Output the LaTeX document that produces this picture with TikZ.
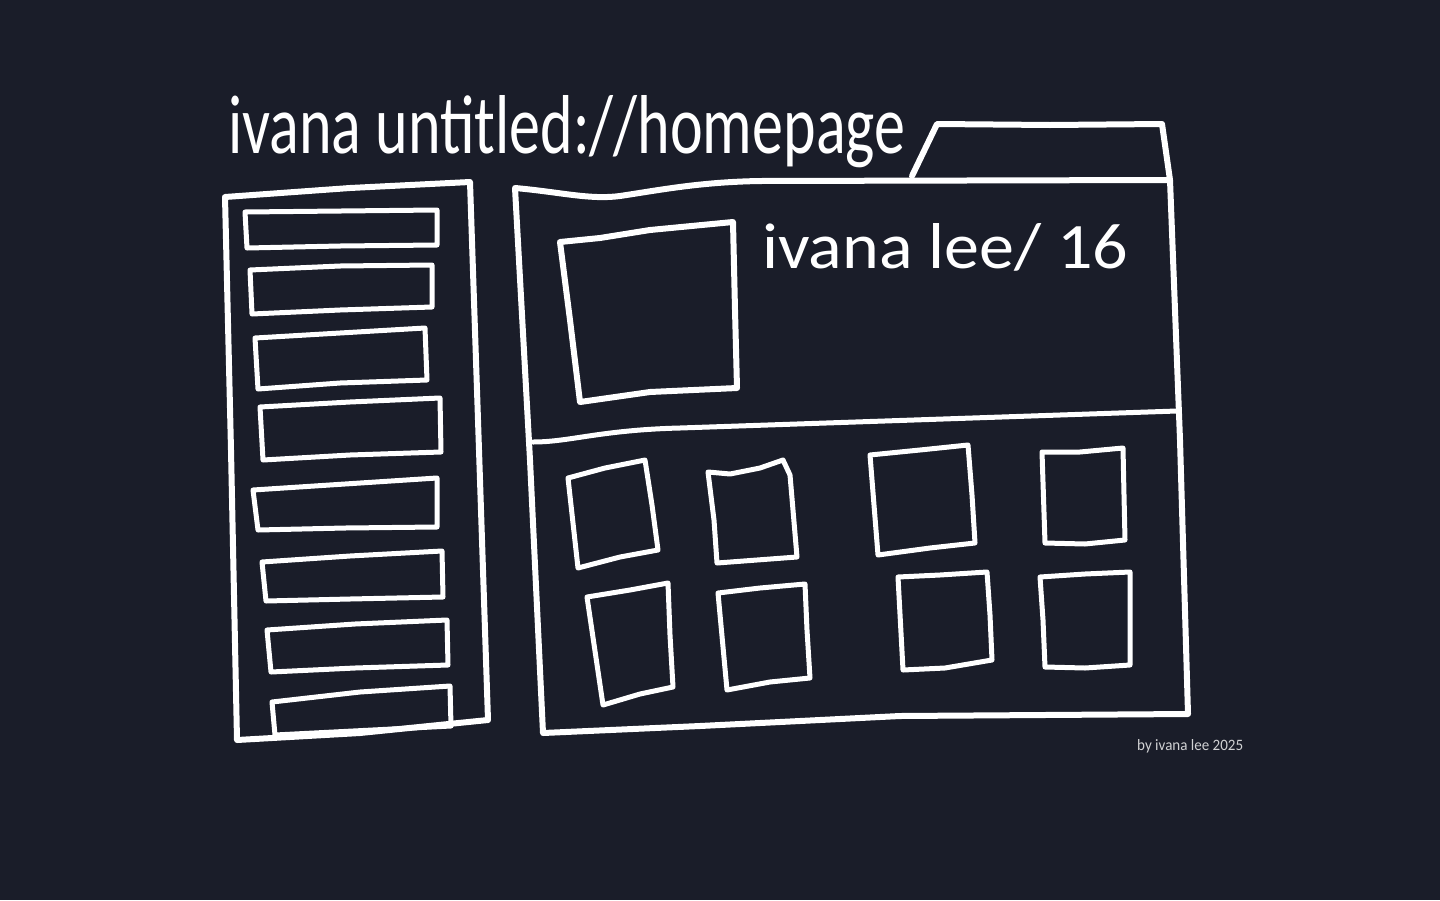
\documentclass[tikz,border=0pt]{standalone}
\usepackage{fontspec}
\setmainfont{Carlito}
\definecolor{bg}{HTML}{1A1D29}
\tikzset{
  sketch/.style={draw=white, line width=6pt, line join=round, line cap=round},
  thinsketch/.style={sketch, line width=5pt},
  hand/.style={text=white, inner sep=0pt, anchor=base west}
}
\begin{document}
\begin{tikzpicture}[x=1pt,y=-1pt]
\useasboundingbox[fill=bg] (0,0) rectangle (1440,900);

% title
\node[hand] (title) at (228,153) {\resizebox{677pt}{58pt}{ivana untitled://homepage}};

% left sidebar
\draw[sketch] (225,197) -- (350,188) -- (470,182) -- (478,420) -- (488,720) -- (360,733) -- (237,740) -- (231,450) -- cycle;
% sidebar items
\draw[thinsketch] (245,212) -- (437,210) -- (437,245) -- (340,246) -- (247,248) -- cycle;
\draw[thinsketch] (250,270) -- (340,266) -- (432,265) -- (432,307) -- (340,310) -- (252,314) -- cycle;
\draw[thinsketch] (255,338) -- (340,333) -- (425,328) -- (427,380) -- (340,383) -- (258,389) -- cycle;
\draw[thinsketch] (260,407) -- (350,402) -- (440,398) -- (441,452) -- (350,455) -- (263,460) -- cycle;
\draw[thinsketch] (253,490) -- (345,484) -- (437,478) -- (437,527) -- (345,528) -- (258,530) -- cycle;
\draw[thinsketch] (262,562) -- (350,556) -- (442,551) -- (443,597) -- (350,599) -- (266,601) -- cycle;
\draw[thinsketch] (267,630) -- (355,624) -- (447,620) -- (448,665) -- (355,668) -- (271,672) -- cycle;
\draw[thinsketch] (272,702) -- (360,692) -- (450,686) -- (451,726) -- (275,735) -- cycle;

% main panel
\draw[sketch] (515,188) .. controls (560,192) and (590,200) .. (620,196)
  .. controls (660,190) and (700,182) .. (760,181) -- (1170,180)
  -- (1180,440) -- (1188,714) -- (900,716) -- (700,726) -- (543,733) -- (530,460) -- cycle;
% tab
\draw[sketch] (912,176) -- (937,124) -- (1050,125) -- (1162,124) -- (1170,180);
% divider
\draw[thinsketch] (533,442) .. controls (570,442) and (600,430) .. (680,428) -- (1177,411);

% profile picture
\draw[sketch] (560,242) -- (600,238) -- (650,230) -- (733,222) -- (735,310) -- (737,388) -- (650,392) -- (580,402) -- (570,320) -- cycle;

% name
\node[hand] (name) at (762,268) {\resizebox{366pt}{45pt}{ivana lee/ 16}};

% grid row 1
\draw[thinsketch] (568,478) -- (605,468) -- (645,460) -- (652,505) -- (658,550) -- (620,557) -- (578,568) -- cycle;
\draw[thinsketch] (708,472) -- (730,474) -- (760,468) -- (783,460) -- (790,475) -- (797,557) -- (717,563) -- (714,520) -- cycle;
\draw[thinsketch] (870,455) -- (920,450) -- (968,445) -- (972,495) -- (975,543) -- (930,548) -- (878,555) -- (874,505) -- cycle;
\draw[thinsketch] (1042,452) -- (1080,452) -- (1123,448) -- (1124,495) -- (1125,540) -- (1085,544) -- (1045,543) -- cycle;
% grid row 2
\draw[thinsketch] (587,597) -- (630,590) -- (668,583) -- (670,635) -- (673,687) -- (640,694) -- (603,705) -- cycle;
\draw[thinsketch] (718,593) -- (760,588) -- (805,584) -- (807,630) -- (810,678) -- (770,682) -- (727,690) -- cycle;
\draw[thinsketch] (898,577) -- (940,575) -- (987,572) -- (990,615) -- (992,660) -- (945,668) -- (903,670) -- cycle;
\draw[thinsketch] (1040,577) -- (1085,574) -- (1130,572) -- (1130,620) -- (1130,665) -- (1085,668) -- (1045,667) -- (1043,620) -- cycle;

% credit
\node[hand, text=white!80!bg] (credit) at (1137,750) {\resizebox{106pt}{11pt}{by ivana lee 2025}};
\end{tikzpicture}
\end{document}
